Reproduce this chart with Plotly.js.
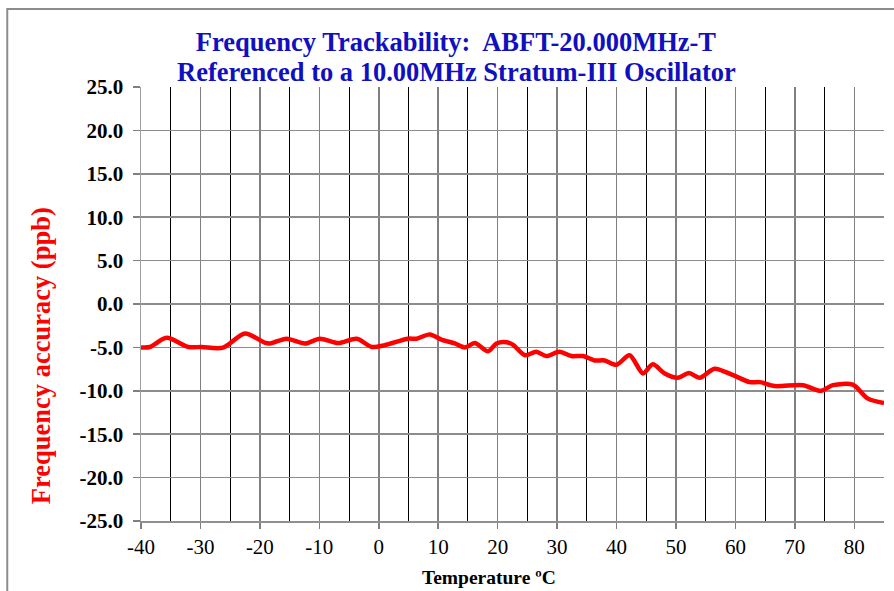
<!DOCTYPE html>
<html>
<head>
<meta charset="utf-8">
<script src="https://cdn.plot.ly/plotly-3.0.1.min.js"></script>
<style>
html,body{margin:0;padding:0;background:#fff;}
#chart{width:894px;height:591px;}
</style>
</head>
<body>
<div id="chart"></div>
<script>
// Temperature (°C) and frequency accuracy (ppb)
var temperature = [-40, -38.5, -35.7, -32.0, -29.8, -26.2, -22.5, -19.2, -18.3, -15.5, -12.4, -9.9, -6.8, -3.7, -1.2, 1.0,
  4.9, 6.35, 8.6, 10.55, 12.8, 14.5, 16.15, 18.4, 19.8, 21.5, 22.6, 24.6, 26.5, 28.2, 30.4, 32.4, 34.4, 36.3, 38.0, 40.0,
  42.2, 44.45, 46.1, 48.1, 50.3, 52.2, 54.0, 56.5, 59.6, 62.4, 64.1, 66.6, 71.35, 74.4, 76.4, 79.75, 82.3, 85];
var accuracy = [-5.0, -4.95, -3.9, -4.95, -4.95, -5.03, -3.4, -4.45, -4.55, -4.0, -4.55, -4.0, -4.5, -4.0, -4.95, -4.75,
  -4.0, -4.0, -3.5, -4.1, -4.55, -5.0, -4.5, -5.45, -4.55, -4.4, -4.7, -5.9, -5.5, -6.0, -5.5, -6.0, -6.0, -6.5, -6.5, -7.0,
  -5.9, -8.0, -6.95, -8.0, -8.5, -7.95, -8.5, -7.45, -8.2, -9.0, -9.0, -9.45, -9.35, -10.0, -9.35, -9.3, -10.9, -11.4];
var xTicks = [-40, -30, -20, -10, 0, 10, 20, 30, 40, 50, 60, 70, 80];
var yTicks = [-25, -20, -15, -10, -5, 0, 5, 10, 15, 20, 25];
var titleLine1 = 'Frequency Trackability:\u00A0 ABFT-20.000MHz-T';
var titleLine2 = 'Referenced to a 10.00MHz Stratum-III Oscillator';

var serif = 'Liberation Serif, Times New Roman, serif';
var titleFont = {family: serif, size: 26.5, color: '#1010C0', weight: 'bold'};

var trace = {
  x: temperature,
  y: accuracy,
  type: 'scatter',
  mode: 'lines',
  line: {color: '#FF0000', width: 4.5, shape: 'spline', smoothing: 0.8},
  hoverinfo: 'x+y'
};

var layout = {
  width: 894, height: 591,
  margin: {l: 141, r: 9.5, t: 87, b: 70},
  paper_bgcolor: '#ffffff',
  plot_bgcolor: '#ffffff',
  showlegend: false,
  title: {
    text: titleLine1,
    font: titleFont,
    x: 0.51, xanchor: 'center', xref: 'container',
    y: 1 - 42 / 591, yanchor: 'middle', yref: 'container'
  },
  xaxis: {
    range: [-40, 85],
    tickvals: xTicks,
    ticktext: xTicks.map(String),
    ticks: 'outside', ticklen: 6, tickcolor: '#808080', tickwidth: 1.5,
    showgrid: true, gridcolor: '#808080', gridwidth: 1.5,
    minor: {dtick: 5, tick0: -35, showgrid: true, gridcolor: '#000000', gridwidth: 1, ticks: ''},
    zeroline: false,
    showline: true, linecolor: '#909090', linewidth: 1.5,
    tickfont: {family: serif, size: 21, color: '#000000'},
    fixedrange: true
  },
  yaxis: {
    range: [-25, 25],
    tickvals: yTicks,
    ticktext: yTicks.map(function (v) { return v.toFixed(1); }),
    ticks: 'outside', ticklen: 7, tickcolor: '#808080', tickwidth: 1.5,
    ticklabelstandoff: 5,
    showgrid: true, gridcolor: '#8c8c8c', gridwidth: 1.5,
    zeroline: false,
    showline: true, linecolor: '#a0a0a0', linewidth: 1.5,
    tickfont: {family: serif, size: 21, color: '#000000', weight: 'bold'},
    fixedrange: true
  },
  annotations: [{
    text: titleLine2,
    xref: 'paper', yref: 'paper',
    x: (457 - 141) / 743.5, y: (521 - 72) / 434,
    xanchor: 'center', yanchor: 'middle',
    showarrow: false,
    font: titleFont
  }, {
    text: 'Frequency accuracy (ppb)',
    xref: 'paper', yref: 'paper',
    x: -0.1345, y: 0.38,
    xanchor: 'center', yanchor: 'middle',
    textangle: -90, showarrow: false,
    font: {family: serif, size: 26.5, color: '#FF0000', weight: 'bold'}
  }, {
    text: 'Temperature ºC',
    xref: 'paper', yref: 'paper',
    x: 0.468, y: -0.131,
    xanchor: 'center', yanchor: 'middle',
    showarrow: false,
    font: {family: serif, size: 19.5, color: '#000000', weight: 'bold'}
  }],
  shapes: [{
    type: 'rect', xref: 'paper', yref: 'paper',
    x0: -0.18, x1: 1.2, y0: -0.4, y1: 1.18,
    line: {color: '#8c8c8c', width: 2},
    layer: 'below'
  }]
};

Plotly.newPlot('chart', [trace], layout, {displayModeBar: false, staticPlot: true});
</script>
</body>
</html>
